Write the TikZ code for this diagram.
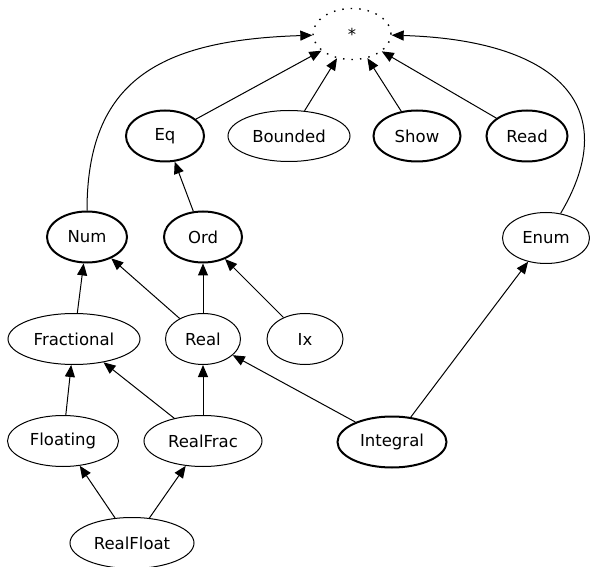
\documentclass[tikz,border=0pt]{standalone}
\usepackage{fontspec}
\setmainfont{DejaVu Sans}
\usepackage{tikz}
\usetikzlibrary{shapes.geometric, arrows.meta}

\begin{document}
\begin{tikzpicture}[x=1pt, y=1pt,
    cls/.style={ellipse, draw, line width=1pt, inner sep=0pt, minimum height=51pt,
        font=\fontsize{16.5}{19}\selectfont},
    boldcls/.style={cls, line width=2pt},
    topcls/.style={cls, line width=1.4pt, dash pattern=on 1.5pt off 7pt},
    edge/.style={line width=1pt, -{Triangle[length=12pt, width=10pt]}}]
    \useasboundingbox (0,0) rectangle (590,-567);
    % Top class
    \node[topcls, minimum width=78pt] (star) at (352,-34) {*};
    % Second rank
    \node[boldcls, minimum width=78pt] (eq) at (165,-136) {Eq};
    \node[cls, minimum width=122pt] (bounded) at (289,-136) {Bounded};
    \node[boldcls, minimum width=87pt] (show) at (417,-136) {Show};
    \node[boldcls, minimum width=81pt] (read) at (527,-136) {Read};
    % Third rank
    \node[boldcls, minimum width=80pt] (num) at (87,-237) {Num};
    \node[boldcls, minimum width=78pt] (ord) at (203,-237) {Ord};
    \node[cls, minimum width=87pt] (enum) at (546,-238) {Enum};
    % Fourth rank
    \node[cls, minimum width=132pt] (fractional) at (74,-339) {Fractional};
    \node[cls, minimum width=75pt] (real) at (203,-339) {Real};
    \node[cls, minimum width=76pt] (ix) at (305,-339) {Ix};
    % Fifth rank
    \node[cls, minimum width=111pt] (floating) at (63,-441) {Floating};
    \node[cls, minimum width=118pt] (realfrac) at (203,-441) {RealFrac};
    \node[boldcls, minimum width=109pt] (integral) at (392,-442) {Integral};
    % Bottom
    \node[cls, minimum width=124pt] (realfloat) at (132,-543) {RealFloat};

    % Edges to the top class
    \draw[edge] (num) .. controls (87,-80) and (160,-40) .. (star);
    \draw[edge] (eq) -- (star);
    \draw[edge] (bounded) -- (star);
    \draw[edge] (show) -- (star);
    \draw[edge] (read) -- (star);
    \draw[edge] (enum) .. controls (625,-105) and (555,-40) .. (star);
    % Remaining edges
    \draw[edge] (ord) -- (eq);
    \draw[edge] (fractional) -- (num);
    \draw[edge] (real) -- (num);
    \draw[edge] (real) -- (ord);
    \draw[edge] (ix) -- (ord);
    \draw[edge] (floating) -- (fractional);
    \draw[edge] (realfrac) -- (fractional);
    \draw[edge] (realfrac) -- (real);
    \draw[edge] (integral) -- (real);
    \draw[edge] (integral) -- (enum);
    \draw[edge] (realfloat) -- (floating);
    \draw[edge] (realfloat) -- (realfrac);
\end{tikzpicture}
\end{document}
